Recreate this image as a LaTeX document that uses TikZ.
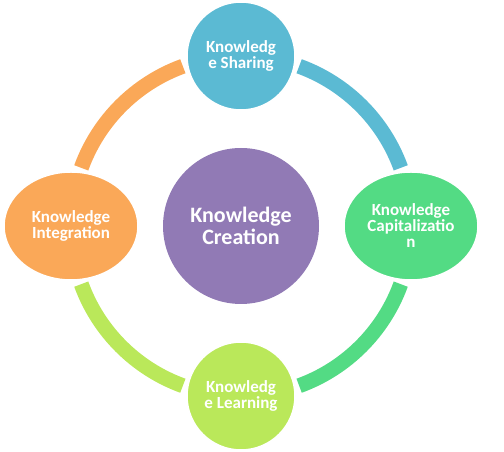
\documentclass[tikz,border=0pt]{standalone}
\usepackage{fontspec}
\setmainfont{Carlito}
\usetikzlibrary{shapes.geometric}
\definecolor{cblue}{HTML}{5BBAD3}
\definecolor{cgreen}{HTML}{53DB84}
\definecolor{clime}{HTML}{BAE85A}
\definecolor{corange}{HTML}{FAA858}
\definecolor{cpurple}{HTML}{917AB5}
\newcommand\smallfnt{\bfseries\fontsize{17}{16}\selectfont}
\newcommand\bigfnt{\bfseries\fontsize{22}{22}\selectfont}
\begin{document}
\begin{tikzpicture}[x=1pt,y=1pt,
  ringarc/.style={line width=15pt},
  bubble/.style={circle, draw=white, line width=1.5pt, inner sep=0pt, text=white, align=center, font=\smallfnt, minimum size=108pt},
  oval/.style={ellipse, draw=white, line width=1.5pt, inner sep=0pt, text=white, align=center, font=\smallfnt, minimum width=134pt, minimum height=108pt},
  hub/.style={circle, inner sep=0pt, text=white, align=center, font=\bigfnt, minimum size=156pt}]
\useasboundingbox (0,0) rectangle (504,452);
\coordinate (ring) at (241,226);
\draw[ringarc, cblue] ([shift={(70:170pt)}]ring) arc[start angle=70, end angle=20, radius=170pt];
\draw[ringarc, cgreen] ([shift={(-20:170pt)}]ring) arc[start angle=-20, end angle=-70, radius=170pt];
\draw[ringarc, clime] ([shift={(-110:170pt)}]ring) arc[start angle=-110, end angle=-160, radius=170pt];
\draw[ringarc, corange] ([shift={(160:170pt)}]ring) arc[start angle=160, end angle=110, radius=170pt];
\node[hub, fill=cpurple] (create) at (241,226) {Knowledge\\Creation};
\node[bubble, fill=cblue] (share) at (241,396) {Knowledg\\e Sharing};
\node[oval, fill=cgreen] (capital) at (411,226) {Knowledge\\Capitalizatio\\n};
\node[bubble, fill=clime] (learn) at (241,56) {Knowledg\\e Learning};
\node[oval, fill=corange] (integ) at (71,226) {Knowledge\\Integration};
\end{tikzpicture}
\end{document}
